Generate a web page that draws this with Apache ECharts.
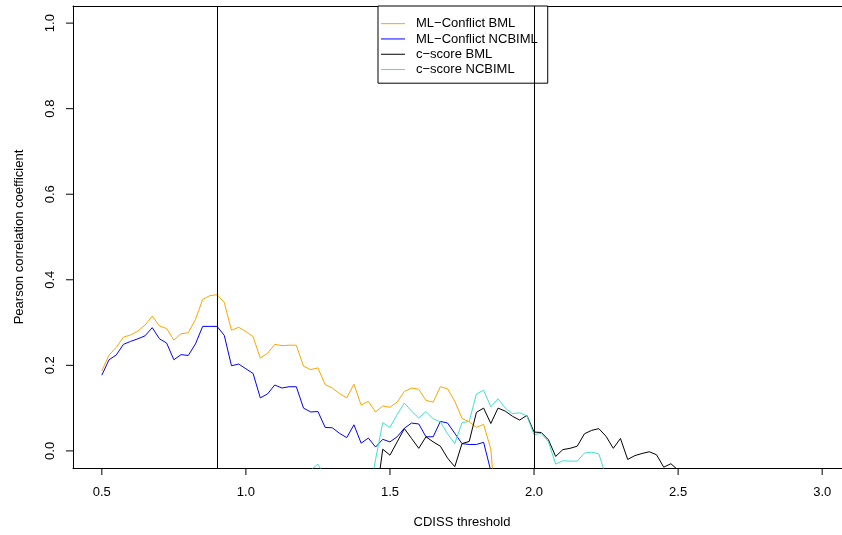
<!DOCTYPE html>
<html>
<head>
<meta charset="utf-8">
<script src="https://cdn.jsdelivr.net/npm/echarts@6/dist/echarts.min.js"></script>
<style>
    html, body { margin: 0; padding: 0; background: #fff; overflow: hidden; }
    /* wider than the window: the right side of the plot box falls off-screen, as in the original */
    #chart { width: 852px; height: 535px; }
</style>
</head>
<body>
<div id="chart"></div>
<script>
    // CDISS thresholds, step 0.025
    var thresholds = [
        0.5, 0.525, 0.55, 0.575, 0.6, 0.625, 0.65, 0.675, 0.7, 0.725,
        0.75, 0.775, 0.8, 0.825, 0.85, 0.875, 0.9, 0.925, 0.95, 0.975,
        1.0, 1.025, 1.05, 1.075, 1.1, 1.125, 1.15, 1.175, 1.2, 1.225,
        1.25, 1.275, 1.3, 1.325, 1.35, 1.375, 1.4, 1.425, 1.45, 1.475,
        1.5, 1.525, 1.55, 1.575, 1.6, 1.625, 1.65, 1.675, 1.7, 1.725,
        1.75, 1.775, 1.8, 1.825, 1.85, 1.875, 1.9, 1.925, 1.95, 1.975,
        2.0, 2.025, 2.05, 2.075, 2.1, 2.125, 2.15, 2.175, 2.2, 2.225,
        2.25, 2.275, 2.3, 2.325, 2.35, 2.375, 2.4, 2.425, 2.45, 2.475,
        2.5
    ];

    // ML-Conflict BML (orange)
    var mlBML = [
        0.187, 0.224, 0.242, 0.266, 0.271, 0.280, 0.294, 0.315, 0.292, 0.286,
        0.259, 0.274, 0.276, 0.307, 0.354, 0.363, 0.365, 0.347, 0.282, 0.289,
        0.279, 0.267, 0.217, 0.228, 0.249, 0.246, 0.247, 0.247, 0.198, 0.190,
        0.194, 0.155, 0.147, 0.134, 0.124, 0.156, 0.107, 0.116, 0.091, 0.105,
        0.102, 0.114, 0.139, 0.147, 0.144, 0.118, 0.114, 0.150, 0.145, 0.116,
        0.076, 0.068, 0.055, 0.062, 0.004, -0.2
    ];

    // ML-Conflict NCBIML (blue)
    var mlNCBIML = [
        0.177, 0.213, 0.224, 0.249, 0.256, 0.262, 0.269, 0.288, 0.262, 0.252,
        0.213, 0.225, 0.223, 0.250, 0.291, 0.291, 0.291, 0.270, 0.199, 0.203,
        0.192, 0.181, 0.124, 0.133, 0.154, 0.147, 0.150, 0.150, 0.100, 0.091,
        0.092, 0.055, 0.054, 0.041, 0.031, 0.061, 0.018, 0.030, 0.009, 0.027,
        0.021, 0.033, 0.053, 0.065, 0.063, 0.033, 0.033, 0.069, 0.065, 0.041,
        0.017, 0.015, 0.015, 0.020, -0.047
    ];

    // c-score BML (black)
    var csBML = [
        null, null, null, null, null, null, null, null, null, null,
        null, null, null, null, null, null, null, null, null, null,
        null, null, null, null, null, null, null, null, null, null,
        null, null, null, null, null, null, null, null, -0.12, 0.004,
        -0.010, 0.021, 0.052, 0.029, 0.006, 0.033, 0.021, 0.011, -0.017, -0.037,
        0.017, 0.022, 0.090, 0.100, 0.064, 0.100, 0.093, 0.081, 0.072, 0.083,
        0.044, 0.043, 0.026, -0.013, 0.003, 0.006, 0.011, 0.040, 0.048, 0.052,
        0.034, 0.006, 0.029, -0.020, -0.011, -0.006, -0.002, -0.009, -0.038, -0.030,
        -0.045
    ];

    // c-score NCBIML (turquoise)
    var csNCBIML = [
        null, null, null, null, null, null, null, null, null, null,
        null, null, null, null, null, null, null, null, null, null,
        null, null, null, null, null, null, null, null, null, -0.045,
        -0.031, -0.06, null, null, null, null, null, -0.12, -0.020, 0.066,
        0.055, 0.085, 0.112, 0.093, 0.077, 0.092, 0.075, 0.068, 0.040, 0.017,
        0.066, 0.069, 0.133, 0.142, 0.103, 0.122, 0.100, 0.087, 0.089, 0.082,
        0.038, 0.041, 0.021, -0.031, -0.023, -0.024, -0.024, -0.005, -0.003, -0.007,
        -0.06
    ];

    var xTicks = [0.5, 1.0, 1.5, 2.0, 2.5, 3.0];
    var yTicks = [0.0, 0.2, 0.4, 0.6, 0.8, 1.0];
    var cutoffs = [0.9, 2.0];

    var names = ['ML\u2212Conflict BML', 'ML\u2212Conflict NCBIML', 'c\u2212score BML', 'c\u2212score NCBIML'];
    var colors = ['#FFA500', '#0000FF', '#000000', '#40E0D0'];
    var font = 'Liberation Sans, Arial, Helvetica, sans-serif';

    var xMin = 0.4, xMax = 3.1, yMin = -0.04, yMax = 1.04;

    function pairs(vals) {
        return thresholds.map(function (x, i) {
            var v = vals[i];
            return [x, (v === null || v === undefined) ? '-' : v];
        });
    }

    var seriesVals = [mlBML, mlNCBIML, csBML, csNCBIML];

    var series = seriesVals.map(function (vals, k) {
        return {
            name: names[k],
            type: 'line',
            data: pairs(vals),
            symbol: 'none',
            showSymbol: false,
            clip: true,
            connectNulls: false,
            color: colors[k],
            lineStyle: { color: colors[k], width: 1 },
            animation: false
        };
    });

    series[0].markLine = {
        silent: true,
        symbol: ['none', 'none'],
        label: { show: false },
        lineStyle: { color: '#000', width: 1, type: 'solid' },
        data: cutoffs.map(function (c) { return { xAxis: c }; }),
        animation: false
    };

    var blackLine = { show: true, onZero: false, lineStyle: { color: '#000', width: 1 } };

    // outward tick marks are drawn as a 1x7 block in the tick label itself
    var tickMark = { width: 1, height: 7, lineHeight: 7, fontSize: 1, backgroundColor: '#000' };

    var chart = echarts.init(document.getElementById('chart'));

    chart.setOption({
        backgroundColor: '#fff',
        animation: false,
        textStyle: { fontFamily: font },
        grid: { left: 73, top: 6, right: 1, bottom: 67, show: false },
        legend: {
            orient: 'vertical',
            left: 378,
            top: 6,
            padding: [10, 10, 6, 3],
            itemGap: 0,
            itemWidth: 24,
            itemHeight: 1,
            icon: 'rect',
            backgroundColor: '#fff',
            borderColor: '#000',
            borderWidth: 1,
            borderRadius: 0,
            selectedMode: false,
            textStyle: {
                fontFamily: font,
                fontSize: 13,
                color: '#000',
                lineHeight: 15.3,
                padding: [0, 0, 0, 6]
            },
            data: names
        },
        xAxis: [{
            type: 'value',
            position: 'bottom',
            min: xMin,
            max: xMax,
            splitLine: { show: false },
            axisLine: blackLine,
            axisTick: { show: false },
            axisLabel: {
                customValues: xTicks,
                margin: 0,
                fontFamily: font,
                fontSize: 13,
                color: '#000',
                formatter: function (v) { return '{t| }\n{v|' + v.toFixed(1) + '}'; },
                rich: {
                    t: tickMark,
                    v: { fontFamily: font, fontSize: 13, color: '#000', lineHeight: 34 }
                }
            },
            name: 'CDISS threshold',
            nameLocation: 'middle',
            nameGap: 48,
            nameTextStyle: { fontFamily: font, fontSize: 13, color: '#000' }
        }, {
            // top edge of the plot box
            type: 'value',
            position: 'top',
            min: xMin,
            max: xMax,
            splitLine: { show: false },
            axisLine: blackLine,
            axisTick: { show: false },
            axisLabel: { show: false }
        }],
        yAxis: {
            type: 'value',
            min: yMin,
            max: yMax,
            splitLine: { show: false },
            axisLine: blackLine,
            axisTick: { show: false },
            axisLabel: {
                customValues: yTicks,
                rotate: 90,
                margin: 0,
                fontFamily: font,
                fontSize: 13,
                color: '#000',
                formatter: function (v) { return '{v|' + v.toFixed(1) + '}\n{t| }'; },
                rich: {
                    t: tickMark,
                    v: { fontFamily: font, fontSize: 13, color: '#000', lineHeight: 32 }
                }
            },
            name: 'Pearson correlation coefficient',
            nameLocation: 'middle',
            nameGap: 47,
            nameTextStyle: { fontFamily: font, fontSize: 13, color: '#000' }
        },
        series: series
    });
</script>
</body>
</html>
